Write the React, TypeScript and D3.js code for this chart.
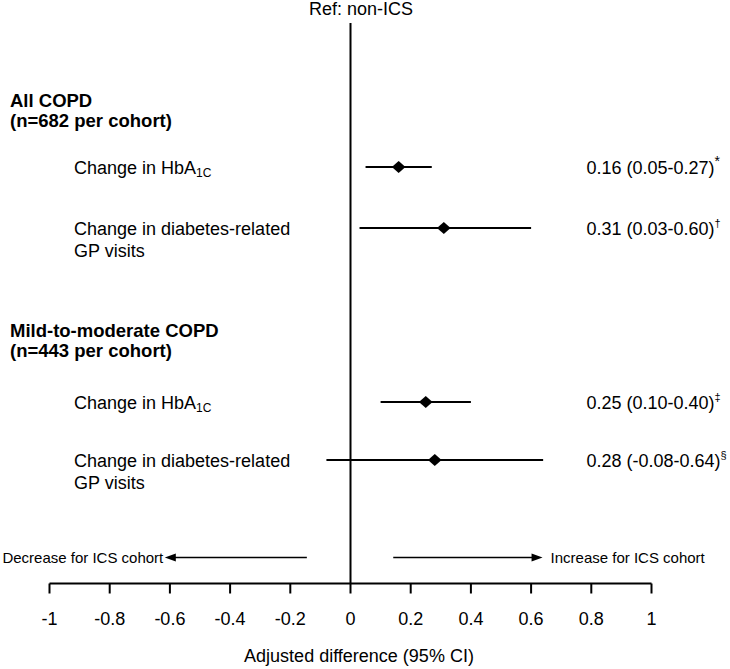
import React from 'react';
import * as d3 from 'd3';

// ---- data ----
const groupTitles = ["All COPD", "Mild-to-moderate COPD"];
const groupSizes = ["(n=682 per cohort)", "(n=443 per cohort)"];
const rowKeys = ["r0", "r1", "r2", "r3"];
const rowOutcome = ["hba1c", "gp", "hba1c", "gp"];
const estimates = [0.16, 0.31, 0.25, 0.28];
const lowerCI = [0.05, 0.03, 0.10, -0.08];
const upperCI = [0.27, 0.60, 0.40, 0.64];
const valueTexts = ["0.16 (0.05-0.27)", "0.31 (0.03-0.60)", "0.25 (0.10-0.40)", "0.28 (-0.08-0.64)"];
const footnotes = ["*", "\u2020", "\u2021", "\u00a7"];
const xTicks = [-1, -0.8, -0.6, -0.4, -0.2, 0, 0.2, 0.4, 0.6, 0.8, 1];
const xTickLabels = ["-1", "-0.8", "-0.6", "-0.4", "-0.2", "0", "0.2", "0.4", "0.6", "0.8", "1"];
const refLabel = "Ref: non-ICS";
const axisTitle = "Adjusted difference (95% CI)";
const decreaseLabel = "Decrease for ICS cohort";
const increaseLabel = "Increase for ICS cohort";
const arrowLeft = [-0.145, -0.617];
const arrowRight = [0.142, 0.638];

// ---- layout ----
const W = 730;
const H = 669;
const FONT = "'Liberation Sans', Arial, Helvetica, sans-serif";

export default function App() {
  const x = d3.scaleLinear().domain([-1, 1]).range([49.5, 651.5]);
  const y = d3
    .scaleOrdinal<string, number>()
    .domain(["h0", "r0", "r1", "h1", "r2", "r3"])
    .range([101, 167, 228, 331, 402, 460]);

  const axisY = 583.5;
  const arrowY = 557.5;
  const dw = 6.8;
  const dh = 6;
  const dPath = `M${-dw},0L0,${-dh}L${dw},0L0,${dh}Z`;

  const outcomeLabel = (o: string, cy: number) => {
    if (o === "hba1c") {
      return (
        <text x={74} y={cy + 6.5} fontSize={18}>
          Change in HbA
          <tspan fontSize={12} dy={3.5}>1C</tspan>
        </text>
      );
    }
    return (
      <text x={74} y={cy + 6.5} fontSize={18}>
        <tspan x={74}>Change in diabetes-related</tspan>
        <tspan x={74} dy={22}>GP visits</tspan>
      </text>
    );
  };

  return (
    <svg
      width={W}
      height={H}
      style={{ position: 'absolute', left: 0, top: 0, background: '#fff' }}
      fontFamily={FONT}
    >
      <rect x={0} y={0} width={W} height={H} fill="#fff" />
      {/* reference label + zero line */}
      <text x={309} y={15} fontSize={18} fill="#000">{refLabel}</text>
      <line x1={x(0)} x2={x(0)} y1={23} y2={axisY} stroke="#000" strokeWidth={2} />

      {/* group headers */}
      {groupTitles.map((t, i) => {
        const cy = y("h" + i);
        return (
          <text key={t} x={10} y={cy + 6} fontSize={18.5} fontWeight="bold" fill="#000">
            <tspan x={10}>{t}</tspan>
            <tspan x={10} dy={19.5}>{groupSizes[i]}</tspan>
          </text>
        );
      })}

      {/* rows */}
      {rowKeys.map((k, i) => {
        const cy = y(k);
        return (
          <g key={k}>
            {outcomeLabel(rowOutcome[i], cy)}
            <line x1={x(lowerCI[i])} x2={x(upperCI[i])} y1={cy} y2={cy} stroke="#000" strokeWidth={2} />
            <path d={dPath} transform={`translate(${x(estimates[i])},${cy})`} fill="#000" />
            <text x={586.5} y={cy + 6.5} fontSize={18} fill="#000">
              {valueTexts[i]}
              <tspan fontSize={footnotes[i] === "*" ? 14 : 11} dy={-8}>{footnotes[i]}</tspan>
            </text>
          </g>
        );
      })}

      {/* direction arrows */}
      <line x1={x(arrowLeft[0])} x2={x(arrowLeft[1]) + 10} y1={arrowY} y2={arrowY} stroke="#000" strokeWidth={1.5} />
      <polygon
        points={`${x(arrowLeft[1])},${arrowY} ${x(arrowLeft[1]) + 11},${arrowY - 4} ${x(arrowLeft[1]) + 11},${arrowY + 4}`}
        fill="#000"
      />
      <text x={x(arrowLeft[1]) - 1.5} y={arrowY + 5.5} fontSize={15} textAnchor="end" fill="#000">{decreaseLabel}</text>
      <line x1={x(arrowRight[0])} x2={x(arrowRight[1]) - 10} y1={arrowY} y2={arrowY} stroke="#000" strokeWidth={1.5} />
      <polygon
        points={`${x(arrowRight[1])},${arrowY} ${x(arrowRight[1]) - 11},${arrowY - 4} ${x(arrowRight[1]) - 11},${arrowY + 4}`}
        fill="#000"
      />
      <text x={x(arrowRight[1]) + 8} y={arrowY + 5.5} fontSize={15} fill="#000">{increaseLabel}</text>

      {/* x axis */}
      <line x1={x(-1)} x2={x(1)} y1={axisY} y2={axisY} stroke="#000" strokeWidth={2} />
      {xTicks.map((t, i) => (
        <g key={t}>
          <line x1={x(t)} x2={x(t)} y1={axisY} y2={axisY + 10} stroke="#000" strokeWidth={2} />
          <text x={x(t)} y={625} fontSize={18} textAnchor="middle" fill="#000">{xTickLabels[i]}</text>
        </g>
      ))}
      <text x={359} y={661.5} fontSize={18} textAnchor="middle" fill="#000">{axisTitle}</text>
    </svg>
  );
}
